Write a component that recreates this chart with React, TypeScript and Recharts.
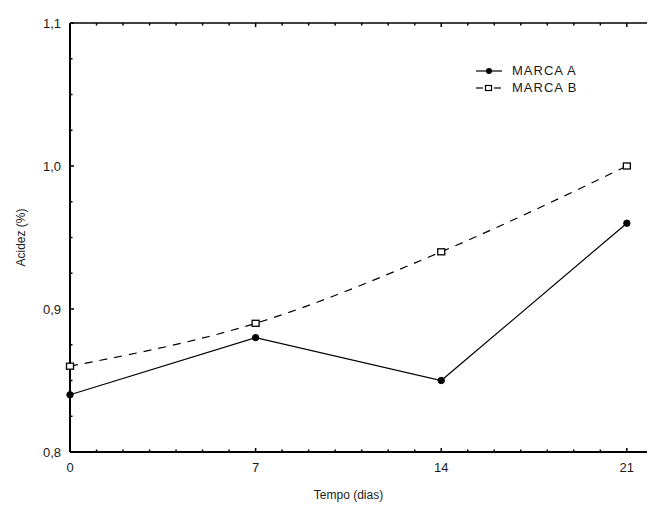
import { LineChart, Line, XAxis, YAxis } from "recharts";

const dias = [0, 7, 14, 21];
const marcaA = [0.84, 0.88, 0.85, 0.96];
const marcaB = [0.86, 0.89, 0.94, 1.0];

const xMajor = [0, 7, 14, 21];
const xTicks = [0, 1, 2, 3, 4, 5, 6, 7, 8, 9, 10, 11, 12, 13, 14, 15, 16, 17, 18, 19, 20, 21];
const yMajor = [0.8, 0.9, 1.0, 1.1];
const yTicks = [0.8, 0.825, 0.85, 0.875, 0.9, 0.925, 0.95, 0.975, 1.0, 1.025, 1.05, 1.075, 1.1];

const data = dias.map((d, i) => ({ dia: d, a: marcaA[i], b: marcaB[i] }));

// layout of the plot box (page pixels)
const W = 648;
const H = 506;
const TOP = 23;
const LEFT = 70;
const BOTTOM = 452;
const RIGHT = 647;
const X_MAX = 21.76;

const FONT = "'Liberation Sans', Arial, sans-serif";
const INK = "#1a1a1a";

const isMajorX = (v: number) => xMajor.includes(v);
const isMajorY = (v: number) => yMajor.some((m) => Math.abs(m - v) < 1e-6);

const BottomTick = (props: any) => {
  const { x, payload } = props;
  const v = payload.value;
  const major = isMajorX(v);
  return (
    <g>
      <line x1={x} x2={x} y1={BOTTOM} y2={BOTTOM - (major ? 4 : 2.5)} stroke="#000" strokeWidth={1.5} />
      {major && (
        <text x={x} y={472} textAnchor="middle" fontFamily={FONT} fontSize={13} fill={INK}>
          {v}
        </text>
      )}
    </g>
  );
};

const TopTick = (props: any) => {
  const { x, payload } = props;
  const major = isMajorX(payload.value);
  return <line x1={x} x2={x} y1={TOP} y2={TOP + (major ? 4 : 2.5)} stroke="#000" strokeWidth={1.5} />;
};

const LeftTick = (props: any) => {
  const { y, payload } = props;
  const v = payload.value;
  const major = isMajorY(v);
  return (
    <g>
      <line x1={LEFT} x2={LEFT + (major ? 4 : 2.5)} y1={y} y2={y} stroke="#000" strokeWidth={1.5} />
      {major && (
        <text x={61} y={y + 4.5} textAnchor="end" fontFamily={FONT} fontSize={13} fill={INK}>
          {v.toFixed(1).replace(".", ",")}
        </text>
      )}
    </g>
  );
};

const RightTick = (props: any) => {
  const { y, payload } = props;
  const major = isMajorY(payload.value);
  return <line x1={RIGHT + 1} x2={RIGHT + 1 - (major ? 4 : 2.5)} y1={y} y2={y} stroke="#000" strokeWidth={1.5} />;
};

const DotA = (props: any) => {
  const { cx, cy } = props;
  return <circle cx={cx} cy={cy} r={3.2} fill="#000" stroke="#000" />;
};

const DotB = (props: any) => {
  const { cx, cy } = props;
  return <rect x={cx - 3.5} y={cy - 3} width={7} height={6} fill="#fff" stroke="#000" strokeWidth={1.3} />;
};

const LegendBox = () => (
  <div
    style={{
      position: "absolute",
      left: 474,
      top: 62,
      fontFamily: FONT,
      fontSize: 13,
      color: INK,
      letterSpacing: 1,
      lineHeight: "17px",
    }}
  >
    <div style={{ display: "flex", alignItems: "center", height: 17 }}>
      <svg width={38} height={12}>
        <line x1={2} x2={28} y1={6} y2={6} stroke="#000" strokeWidth={1.2} />
        <circle cx={15} cy={6} r={3} fill="#000" />
      </svg>
      <span>MARCA A</span>
    </div>
    <div style={{ display: "flex", alignItems: "center", height: 17 }}>
      <svg width={38} height={12}>
        <line x1={2} x2={9} y1={6} y2={6} stroke="#000" strokeWidth={1.2} />
        <line x1={20} x2={27} y1={6} y2={6} stroke="#000" strokeWidth={1.2} />
        <rect x={11.5} y={3.5} width={6} height={5} fill="#fff" stroke="#000" strokeWidth={1.2} />
      </svg>
      <span>MARCA B</span>
    </div>
  </div>
);

export default function App() {
  return (
    <div style={{ position: "absolute", left: 0, top: 0, width: W, height: H, background: "#fff" }}>
      <LineChart width={W} height={H} data={data} margin={{ top: TOP - 1, right: W - RIGHT - 1, bottom: 0, left: 0 }}>
        <XAxis
          xAxisId={0}
          dataKey="dia"
          type="number"
          domain={[0, X_MAX]}
          ticks={xTicks}
          interval={0}
          height={H - BOTTOM}
          axisLine={{ stroke: "#000", strokeWidth: 2 }}
          tickLine={false}
          tick={<BottomTick />}
          label={{
            value: "Tempo (dias)",
            position: "insideBottom",
            offset: 7,
            dx: -10,
            fontFamily: FONT,
            fontSize: 12,
            fill: INK,
          }}
        />
        <XAxis
          xAxisId="top"
          orientation="top"
          dataKey="dia"
          type="number"
          domain={[0, X_MAX]}
          ticks={xTicks}
          interval={0}
          height={1}
          axisLine={{ stroke: "#000", strokeWidth: 1.5 }}
          tickLine={false}
          tick={<TopTick />}
        />
        <YAxis
          yAxisId={0}
          type="number"
          domain={[0.8, 1.1]}
          ticks={yTicks}
          interval={0}
          width={LEFT}
          axisLine={{ stroke: "#000", strokeWidth: 2 }}
          tickLine={false}
          tick={<LeftTick />}
          label={{
            value: "Acidez (%)",
            angle: -90,
            position: "center",
            dx: -14,
            fontFamily: FONT,
            fontSize: 12,
            fill: INK,
          }}
        />
        <YAxis
          yAxisId="right"
          orientation="right"
          type="number"
          domain={[0.8, 1.1]}
          ticks={yTicks}
          interval={0}
          width={1}
          axisLine={false}
          tickLine={false}
          tick={<RightTick />}
        />
        <Line
          dataKey="b"
          name="MARCA B"
          type="monotone"
          stroke="#000"
          strokeWidth={1.2}
          strokeDasharray="8 7"
          dot={<DotB />}
          activeDot={false}
          isAnimationActive={false}
        />
        <Line
          dataKey="a"
          name="MARCA A"
          type="linear"
          stroke="#000"
          strokeWidth={1.2}
          dot={<DotA />}
          activeDot={false}
          isAnimationActive={false}
        />
      </LineChart>
      <LegendBox />
    </div>
  );
}
